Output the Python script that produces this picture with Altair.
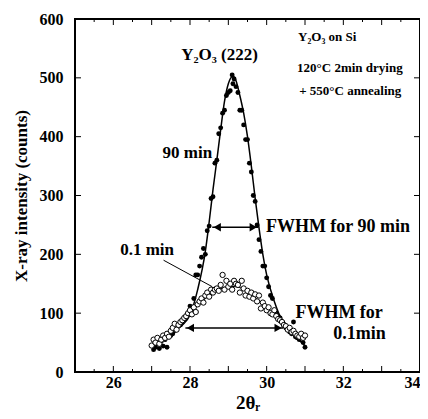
import altair as alt
import pandas as pd

FONT = "Liberation Serif"

# 90 min measured points (filled circles)
x90 = [27.02, 27.05, 27.08, 27.1, 27.15, 27.2, 27.25, 27.3, 27.35, 27.4, 27.45, 27.5, 27.55, 27.6,
       27.65, 27.7, 27.75, 27.8, 27.85, 27.9, 27.95, 28.0, 28.05, 28.1, 28.15, 28.2, 28.25, 28.3,
       28.35, 28.4, 28.45, 28.5, 28.55, 28.6, 28.65, 28.7, 28.75, 28.8, 28.85, 28.9, 28.95, 29.0,
       29.05, 29.1, 29.12, 29.15, 29.2, 29.25, 29.3, 29.35, 29.4, 29.45, 29.5, 29.55, 29.6, 29.65,
       29.7, 29.75, 29.8, 29.85, 29.9, 29.95, 30.0, 30.05, 30.1, 30.15, 30.2, 30.25, 30.3, 30.35,
       30.4, 30.45, 30.5, 30.55, 30.6, 30.65, 30.7, 30.75, 30.8, 30.85, 30.9, 30.95, 31.0]
y90 = [45, 38, 50, 42, 48, 40, 52, 44, 55, 42, 60, 62, 65, 70,
       72, 78, 80, 85, 90, 95, 100, 112, 110, 125, 165, 165, 180, 195,
       210, 200, 240, 248, 295, 298, 355, 360, 405, 415, 440, 445, 470, 475,
       478, 505, 490, 498, 485, 475, 445, 445, 420, 395, 395, 355, 340, 300,
       290, 250, 225, 205, 180, 180, 160, 145, 130, 125, 105, 100, 95, 92,
       85, 80, 75, 72, 68, 65, 85, 60, 58, 55, 62, 50, 42]

# 90 min fitted curve
xc90 = [27.0, 27.2, 27.4, 27.6, 27.8, 28.0, 28.2, 28.4, 28.5, 28.6, 28.7, 28.8, 28.9, 29.0, 29.1,
        29.15, 29.2, 29.3, 29.4, 29.5, 29.6, 29.7, 29.8, 29.9, 30.0, 30.2, 30.4, 30.6, 30.8, 31.0]
yc90 = [42, 50, 60, 70, 80, 97, 140, 205, 255, 310, 360, 412, 460, 490, 502,
        502, 495, 470, 440, 400, 350, 295, 245, 200, 165, 120, 88, 70, 57, 45]

# 0.1 min measured points (open circles)
x01 = [27.0, 27.05, 27.1, 27.15, 27.2, 27.25, 27.3, 27.35, 27.4, 27.45, 27.5, 27.55, 27.6, 27.65,
       27.7, 27.75, 27.8, 27.85, 27.9, 27.95, 28.0, 28.05, 28.1, 28.15, 28.2, 28.25, 28.3, 28.35,
       28.4, 28.45, 28.5, 28.55, 28.6, 28.65, 28.7, 28.75, 28.8, 28.85, 28.9, 28.95, 29.0, 29.05,
       29.1, 29.15, 29.2, 29.25, 29.3, 29.35, 29.4, 29.45, 29.5, 29.55, 29.6, 29.65, 29.7, 29.75,
       29.8, 29.85, 29.9, 29.95, 30.0, 30.05, 30.1, 30.15, 30.2, 30.25, 30.3, 30.35, 30.4, 30.45,
       30.5, 30.55, 30.6, 30.65, 30.7, 30.75, 30.8, 30.85, 30.9, 30.95, 31.0]
y01 = [45, 55, 50, 58, 48, 55, 62, 58, 65, 60, 70, 75, 82, 72,
       80, 85, 88, 92, 95, 100, 105, 98, 110, 102, 115, 120, 125, 118,
       130, 135, 128, 140, 135, 140, 142, 138, 148, 165, 140, 155, 145, 150,
       140, 155, 150, 148, 135, 155, 142, 130, 138, 128, 135, 125, 132, 120,
       130, 108, 118, 112, 105, 110, 100, 98, 105, 95, 90, 88, 85, 80,
       78, 72, 75, 68, 70, 65, 62, 60, 65, 58, 62]

# 0.1 min fitted curve
xc01 = [27.0, 27.25, 27.5, 27.75, 28.0, 28.25, 28.5, 28.75, 29.0, 29.2, 29.5, 29.75, 30.0, 30.25,
        30.5, 30.75, 31.0]
yc01 = [45, 55, 66, 82, 100, 117, 130, 140, 145, 145, 136, 123, 108, 93, 78, 65, 55]

# annotations
txt_x = [28.77, 31.58, 32.17, 32.18, 27.93, 31.86, 26.88, 31.89, 32.42]
txt_y = [539, 570, 517, 478, 372, 247, 207, 100, 65]
txt_s = ["Y₂O₃ (222)", "Y₂O₃ on Si", "120°C 2min drying", "+ 550°C annealing", "90 min",
         "FWHM for 90 min", "0.1 min", "FWHM for", "0.1min"]
txt_fs = [17, 13, 13, 13, 17, 18, 17, 18, 18]

arrow_x1 = [28.58, 27.88]
arrow_x2 = [29.78, 30.43]
arrow_y = [246, 75]

leader_x = [27.31]
leader_x2 = [28.58]
leader_y = [190]
leader_y2 = [145]

x_major = [26, 27, 28, 29, 30, 31, 32, 33]
x_minor = [25.5, 26.5, 27.5, 28.5, 29.5, 30.5, 31.5, 32.5, 33.5]
y_ticks = [100, 200, 300, 400, 500]

W, H = 345, 353
xs = alt.Scale(domain=[25, 34], nice=False, zero=False)
ys = alt.Scale(domain=[0, 600], nice=False)

xaxis = alt.Axis(values=[26, 28, 30, 32, 34], ticks=False, domain=False, grid=False,
                 labelFont=FONT, labelFontWeight="bold", labelFontSize=16, labelColor="black",
                 labelPadding=2, title="2θᵣ", titleFont=FONT, titleFontWeight="bold",
                 titleFontSize=19, titleColor="black", titlePadding=3)
yaxis = alt.Axis(values=[0, 100, 200, 300, 400, 500, 600], ticks=False, domain=False, grid=False,
                 labelFont=FONT, labelFontWeight="bold", labelFontSize=16, labelColor="black",
                 labelPadding=12, title="X-ray intensity (counts)", titleFont=FONT,
                 titleFontWeight="bold", titleFontSize=17, titleColor="black", titlePadding=9)

d90 = pd.DataFrame({"x": x90, "y": y90})
c90 = pd.DataFrame({"x": xc90, "y": yc90})
d01 = pd.DataFrame({"x": x01, "y": y01})
c01 = pd.DataFrame({"x": xc01, "y": yc01})
tdf = pd.DataFrame({"x": txt_x, "y": txt_y, "t": txt_s, "fs": txt_fs})
adf = pd.DataFrame({"x1": arrow_x1, "x2": arrow_x2, "y": arrow_y})
ldf = pd.DataFrame({"x": leader_x, "x2": leader_x2, "y": leader_y, "y2": leader_y2})

X = lambda f: alt.X(f, scale=xs)
Y = lambda f: alt.Y(f, scale=ys)

pts90 = alt.Chart(d90).mark_circle(color="black", size=24, opacity=1).encode(
    x=alt.X("x:Q", scale=xs, axis=xaxis),
    y=alt.Y("y:Q", scale=ys, axis=yaxis),
)
line90 = alt.Chart(c90).mark_line(color="black", strokeWidth=1.5, interpolate="monotone").encode(
    x=X("x:Q"), y=Y("y:Q"))
line01 = alt.Chart(c01).mark_line(color="black", strokeWidth=1.2, interpolate="monotone").encode(
    x=X("x:Q"), y=Y("y:Q"))
pts01 = alt.Chart(d01).mark_point(shape="circle", filled=True, fill="white", stroke="black",
                                  strokeWidth=1, size=28, opacity=1).encode(
    x=X("x:Q"), y=Y("y:Q"))

texts = alt.Chart(tdf).mark_text(font=FONT, fontWeight="bold", color="black",
                                 align="center", baseline="middle").encode(
    x=X("x:Q"), y=Y("y:Q"),
    text="t:N", size=alt.Size("fs:Q", scale=None))

arr_line = alt.Chart(adf).mark_rule(color="black", strokeWidth=1.5).encode(
    x=X("x1:Q"), x2="x2:Q", y=Y("y:Q"))
arr_left = alt.Chart(adf).mark_point(shape="triangle-left", filled=True, color="black",
                                     size=70, opacity=1, xOffset=5).encode(
    x=X("x1:Q"), y=Y("y:Q"))
arr_right = alt.Chart(adf).mark_point(shape="triangle-right", filled=True, color="black",
                                      size=70, opacity=1, xOffset=-5).encode(
    x=X("x2:Q"), y=Y("y:Q"))
leader = alt.Chart(ldf).mark_rule(color="black", strokeWidth=1).encode(
    x=X("x:Q"), x2="x2:Q", y=Y("y:Q"), y2="y2:Q")

xmaj = pd.DataFrame({"x": x_major})
xmin = pd.DataFrame({"x": x_minor})
ytk = pd.DataFrame({"y": y_ticks})
tk = []
for df, ln in [(xmaj, 6), (xmin, 3)]:
    tk.append(alt.Chart(df).mark_rule(color="black", strokeWidth=1).encode(
        x=X("x:Q"), y=alt.value(H), y2=alt.value(H - ln)))
    tk.append(alt.Chart(df).mark_rule(color="black", strokeWidth=1).encode(
        x=X("x:Q"), y=alt.value(0), y2=alt.value(ln)))
tk.append(alt.Chart(ytk).mark_rule(color="black", strokeWidth=1).encode(
    y=Y("y:Q"), x=alt.value(0), x2=alt.value(6)))
tk.append(alt.Chart(ytk).mark_rule(color="black", strokeWidth=1).encode(
    y=Y("y:Q"), x=alt.value(W), x2=alt.value(W - 6)))

chart = alt.layer(pts90, line90, line01, pts01, arr_line, arr_left, arr_right, leader, texts, *tk).properties(
    width=W, height=H,
    autosize=alt.AutoSizeParams(type="none"),
    padding={"left": 67, "top": 11, "right": 0, "bottom": 39},
    background="white",
).configure_view(stroke="black", strokeWidth=2)

chart.save("out.html", embed_options={"renderer": "svg", "actions": False})
